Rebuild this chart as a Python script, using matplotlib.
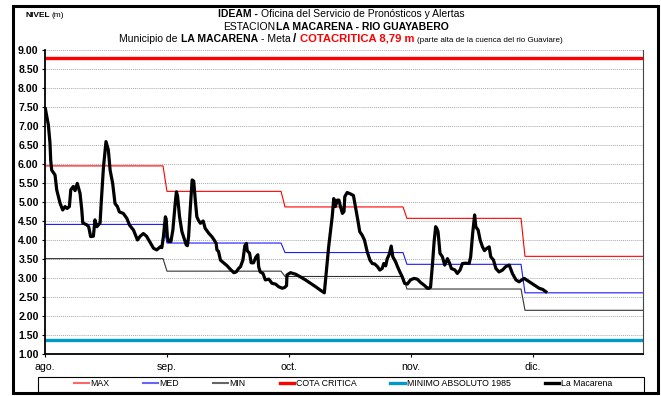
import matplotlib
matplotlib.use("Agg")
import numpy as np
import matplotlib.pyplot as plt
from matplotlib.lines import Line2D
from matplotlib.patches import Rectangle

plt.rcParams['font.family'] = ['Liberation Sans', 'DejaVu Sans']

## Niveles diarios, estacion La Macarena (dia 0 = 1 de agosto)
dias = [0.1, 0.85, 1.27, 1.45, 1.7, 2.55, 2.98, 3.82, 4.5, 5.1, 5.6, 6.2, 6.55, 7.2, 7.64, 8.2,
        8.9, 9.35, 9.6, 10.6, 11.1, 11.6, 12.3, 12.7, 13.2, 14.0, 14.3, 14.85, 15.5, 16.1,
        16.55, 17.2, 17.6, 17.8, 18.4, 18.9, 19.9, 20.8, 21.5, 22.5, 23.5, 24.2, 25.0, 25.8,
        26.6, 27.6, 28.4, 29.3, 29.7, 30.1, 30.6, 30.8, 31.1, 31.4, 32.0, 32.5, 33.1, 33.4,
        33.7, 34.2, 34.8, 35.5, 35.9, 36.2, 36.5, 36.9, 37.4, 37.8, 38.2, 38.6, 39.0, 39.5,
        40.2, 40.7, 41.6, 42.4, 43.0, 43.5, 43.7, 44.1, 44.6, 45.6, 46.3, 47.1, 48.0, 48.6,
        49.2, 49.7, 50.3, 50.8, 51.2, 51.4, 52.0, 52.4, 53.0, 53.6, 54.1, 54.3, 54.7, 55.4,
        56.0, 56.9, 57.7, 58.6, 59.4, 60.3, 60.9, 61.4, 61.5, 62.4, 63.7, 64.9, 66.2, 67.5,
        68.8, 70.0, 71.0, 72.1, 73.0, 73.4, 73.8, 74.3, 74.7, 75.1, 75.6, 76.0, 76.2, 76.8,
        77.7, 78.4, 78.9, 79.5, 80.0, 80.6, 81.2, 81.9, 82.6, 83.2, 83.8, 84.5, 85.1, 85.7,
        86.1, 86.6, 87.0, 87.5, 88.0, 88.4, 89.1, 89.6, 90.2, 90.8, 91.4, 92.1, 92.9, 93.8,
        94.6, 95.5, 96.5, 97.2, 97.6, 98.0, 98.5, 98.9, 99.3, 99.6, 99.9, 100.4, 101.0, 101.6,
        102.3, 102.8, 103.3, 104.2, 104.8, 105.5, 106.1, 106.9, 107.8, 108.2, 108.7, 109.2,
        109.5, 110.1, 110.6, 111.2, 111.7, 112.3, 112.9, 113.3, 114.0, 114.6, 115.4, 116.3,
        117.1, 118.0, 118.8, 119.7, 120.5, 121.8, 123.1, 124.3, 125.6, 126.5, 127.3]
nivel = [7.45, 7.03, 6.55, 6.10, 5.84, 5.71, 5.32, 4.97, 4.79, 4.88, 4.83, 4.88, 5.32, 5.41, 5.30, 5.49,
         5.23, 4.79, 4.45, 4.40, 4.35, 4.09, 4.10, 4.53, 4.35, 4.45, 5.00, 5.90, 6.59, 6.37,
         5.84, 5.49, 5.14, 4.96, 4.88, 4.74, 4.70, 4.57, 4.39, 4.26, 4.00, 4.10, 4.17, 4.10,
         3.96, 3.78, 3.74, 3.82, 3.80, 4.09, 4.61, 4.55, 4.09, 3.96, 3.96, 4.26, 4.97, 5.27,
         5.15, 4.61, 4.22, 4.00, 3.87, 3.85, 4.09, 4.79, 5.58, 5.55, 5.05, 4.61, 4.52, 4.44,
         4.50, 4.31, 4.18, 4.09, 4.00, 3.91, 3.74, 3.70, 3.47, 3.38, 3.32, 3.23, 3.14, 3.16,
         3.25, 3.30, 3.47, 3.85, 3.91, 3.72, 3.65, 3.40, 3.40, 3.55, 3.61, 3.30, 3.16, 3.12,
         2.95, 2.97, 2.86, 2.84, 2.77, 2.73, 2.75, 2.80, 3.08, 3.14, 3.10, 3.03, 2.95, 2.86,
         2.77, 2.68, 2.61, 3.82, 4.61, 5.09, 4.88, 5.05, 5.05, 4.88, 4.70, 4.75, 5.14, 5.25,
         5.21, 5.17, 4.88, 4.53, 4.22, 4.13, 4.00, 3.69, 3.47, 3.38, 3.37, 3.30, 3.21, 3.25,
         3.38, 3.32, 3.51, 3.62, 3.84, 3.56, 3.43, 3.30, 3.16, 3.03, 2.86, 2.84, 2.95, 2.99,
         2.97, 2.88, 2.80, 2.73, 2.73, 2.76, 3.38, 3.95, 4.35, 4.30, 4.22, 3.65, 3.56, 3.34,
         3.51, 3.40, 3.25, 3.21, 3.12, 3.21, 3.38, 3.39, 3.38, 3.56, 4.17, 4.66,
         4.35, 4.26, 4.00, 3.82, 3.72, 3.78, 3.82, 3.56, 3.47, 3.25, 3.16, 3.21,
         3.30, 3.34, 3.12, 2.95, 2.90, 2.99, 2.90, 2.82, 2.73, 2.70, 2.64]

## Valores mensuales historicos (ago - dic)
meses = ['ago.', 'sep.', 'oct.', 'nov.', 'dic.']
dias_mes = [31, 30, 31, 30, 31]
niv_max = [5.95, 5.28, 4.87, 4.57, 3.57]
niv_med = [4.41, 3.92, 3.67, 3.36, 2.61]
niv_min = [3.51, 3.18, 3.04, 2.71, 2.15]
cota_critica = 8.79
minimo_1985 = 1.36

W, H = 661, 396
fig = plt.figure(figsize=(W / 100, H / 100), dpi=100)
ax = fig.add_axes([45 / W, 42 / H, 598 / W, 304 / H])

t = np.arange(sum(dias_mes))
ax.plot(t, np.repeat(niv_max, dias_mes), color='#ff0000', lw=0.8)
ax.plot(t, np.repeat(niv_med, dias_mes), color='#1a1aff', lw=0.8)
ax.plot(t, np.repeat(niv_min, dias_mes), color='#333333', lw=0.8)
ax.axhline(cota_critica, color='#ff0000', lw=2.4)
ax.axhline(minimo_1985, color='#0099cc', lw=2.4)
ax.plot(dias, nivel, color='black', lw=2.3, solid_joinstyle='round')

ax.set_xlim(0, 152)
ax.set_ylim(1, 9)
ax.set_yticks(np.arange(1, 9.01, 0.5))
ax.set_yticklabels(['%.2f' % v for v in np.arange(1, 9.01, 0.5)], fontweight='bold', fontsize=7.6)
ax.set_xticks([0, 31, 62, 93, 124])
ax.set_xticklabels(meses, fontsize=7.6)
ax.tick_params(axis='both', length=2.5, width=0.8, pad=2)
ax.tick_params(axis='x', pad=3.5)
ax.yaxis.grid(True, linestyle=(0, (1, 1)), color='#aaaaaa', lw=0.7)
ax.set_axisbelow(True)
ax.spines['top'].set_visible(False)
ax.spines['right'].set_color('#444444')
ax.spines['right'].set_linewidth(0.8)
ax.spines['left'].set_linewidth(1.3)
ax.spines['bottom'].set_linewidth(1.3)

# marco exterior y caja de la leyenda
fig.add_artist(Rectangle((12.5 / W, 3 / H), 645 / W, 387.5 / H, transform=fig.transFigure,
                         fill=False, ec='black', lw=2.2))
fig.add_artist(Rectangle((38 / W, 4.5 / H), 606 / W, 14.5 / H, transform=fig.transFigure,
                         fill=False, ec='black', lw=0.8))

handles = [Line2D([], [], color='#ff6666', lw=1.5),
           Line2D([], [], color='#6666ff', lw=1.5),
           Line2D([], [], color='#666666', lw=1.5),
           Line2D([], [], color='#ff0000', lw=2.4),
           Line2D([], [], color='#0099cc', lw=2.4),
           Line2D([], [], color='black', lw=2.4)]
labels = ['MAX', 'MED', 'MIN', 'COTA CRITICA', 'MINIMO ABSOLUTO 1985', 'La Macarena']
fig.legend(handles, labels, loc='center', ncol=6, mode='expand', frameon=False,
           bbox_to_anchor=(74 / W, 5 / H, 538 / W, 14 / H), bbox_transform=fig.transFigure,
           fontsize=6.3, handlelength=1.7, handletextpad=0.15, borderpad=0, borderaxespad=0)

# encabezado con partes en distinto formato
renderer = fig.canvas.get_renderer()


def fila(partes, xc, yb, gap=3):
    objs = []
    for txt, kw in partes:
        o = fig.text(0, 1 - yb / H, txt, va='baseline', ha='left', **kw)
        objs.append(o)
    anchos = [o.get_window_extent(renderer).width for o in objs]
    x = xc - (sum(anchos) + gap * (len(objs) - 1)) / 2
    for o, w in zip(objs, anchos):
        o.set_x(x / W)
        x += w + gap


fs = 7.5
fila([('NIVEL', dict(fontsize=6, fontweight='bold')), ('(m)', dict(fontsize=6))], 45, 17, gap=2)
fila([('IDEAM -', dict(fontsize=fs, fontweight='bold')),
      ('Oficina del Servicio de Pronósticos y Alertas', dict(fontsize=fs))], 341, 17)
fila([('ESTACION', dict(fontsize=fs)),
      ('LA MACARENA - RIO GUAYABERO', dict(fontsize=fs, fontweight='bold'))], 336, 29.5, gap=1.5)
fila([('Municipio de', dict(fontsize=fs)),
      ('LA MACARENA', dict(fontsize=fs, fontweight='bold')),
      ('- Meta', dict(fontsize=fs)),
      ('/', dict(fontsize=fs + 1, fontweight='bold')),
      ('COTACRITICA 8,79 m', dict(fontsize=fs + 0.6, fontweight='bold', color='#ff0000')),
      ('(parte alta de la cuenca del rio Guaviare)', dict(fontsize=5.8))], 341, 41.5)

fig.savefig('out.png', dpi=100)
